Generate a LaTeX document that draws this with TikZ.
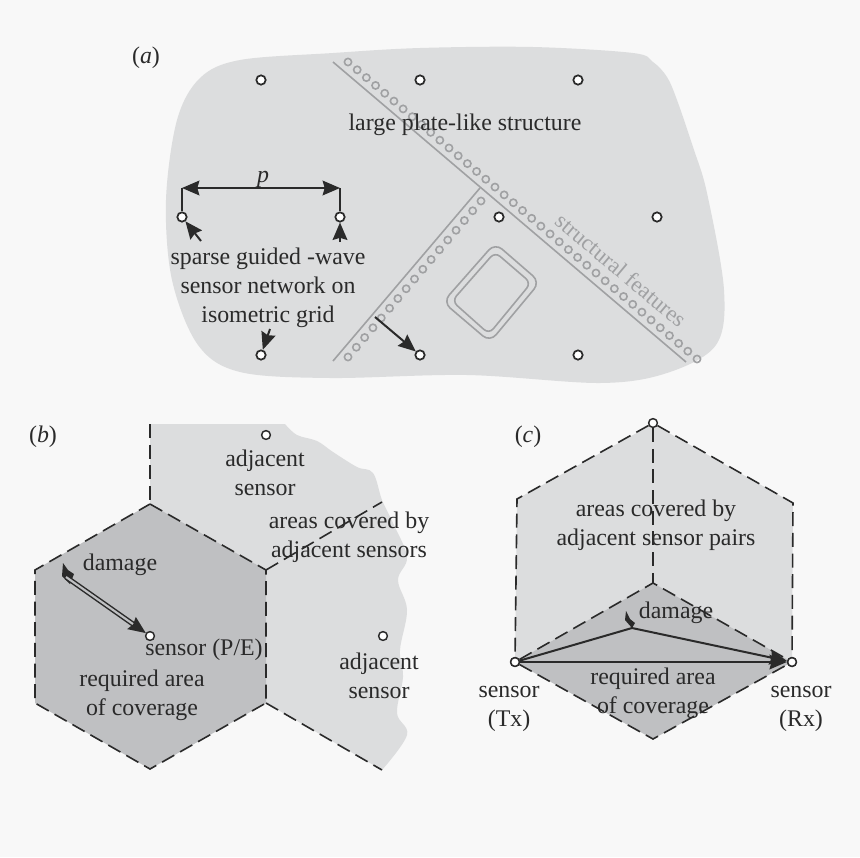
\documentclass[tikz,border=0pt]{standalone}
\usepackage{fontspec}
\setmainfont{Liberation Serif}
\usetikzlibrary{arrows.meta,calc}
\definecolor{bgc}{HTML}{F8F8F8}
\definecolor{plate}{HTML}{DCDDDE}
\definecolor{deep}{HTML}{BFC0C2}
\definecolor{ink}{HTML}{2A2A2A}
\definecolor{feat}{HTML}{A0A1A3}
\tikzset{
 sensor/.style={circle,draw=ink,fill=white,line width=1.3pt,minimum size=7pt,inner sep=0pt},
 smallsensor/.style={sensor,minimum size=6.6pt,line width=1.1pt},
 fdot/.style={circle,draw=feat,line width=1.2pt,minimum size=5.4pt,inner sep=0pt},
 fline/.style={draw=feat,line width=1.2pt},
 lab/.style={text=ink,align=center,inner sep=0pt,yshift=-2.25pt,font=\fontsize{17.9}{21.75}\selectfont},
 dashline/.style={draw=ink,line width=1.2pt,dash pattern=on 10.5pt off 5pt},
 arr/.style={draw=ink,line width=1.5pt,-{Stealth[length=13pt,width=11pt,inset=1.5pt]}},
 darr/.style={draw=ink,line width=1.5pt,{Stealth[length=13pt,width=11pt,inset=1.5pt]}-{Stealth[length=13pt,width=11pt,inset=1.5pt]}},
 tickline/.style={draw=ink,line width=1.5pt},
 crack/.style={fill=ink,draw=none},
}
\begin{document}
\begin{tikzpicture}[x=0.75pt,y=-0.75pt]
\useasboundingbox (0,0) rectangle (860,857);
\fill[bgc] (0,0) rectangle (860,857);
% plate (a)
\fill[plate] plot[smooth cycle,tension=.55] coordinates {
 (240,60)(200,78)(177,120)(166,200)(172,280)(198,345)(240,372)(330,378)(467,375)(600,383)(667,373)(716,345)(724,290)(707,193)(693,147)(677,100)(667,77)(653,62)(633,53)(533,47)(420,48)(333,53)};
% structural features
\coordinate (la1) at (333,62); \coordinate (la2) at (686,362);
\coordinate (lb1) at (480,188); \coordinate (lb2) at (333,361);
\draw[fline] (la1) -- (la2);
\draw[fline] (lb1) -- (lb2);
\foreach \i in {0,...,38}{
 \node[fdot] (fa\i) at ({348+\i*349/38},{62+\i*297/38}) {};}
\foreach \i in {0,...,16}{
 \node[fdot] (fb\i) at ({481-\i*133/16},{201+\i*156/16}) {};}
\draw[fline,rounded corners=7pt] (495,243)--(540,282)--(490,342)--(443,302)--cycle;
\draw[fline,rounded corners=5pt] (495,252)--(531,283)--(489,334)--(452,301)--cycle;
% sensors (a)
\node[sensor] (s1) at (261,80) {};
\node[sensor] (s2) at (420,80) {};
\node[sensor] (s3) at (578,80) {};
\node[sensor] (s4) at (182,217) {};
\node[sensor] (s5) at (340,217) {};
\node[sensor] (s6) at (499,217) {};
\node[sensor] (s7) at (657,217) {};
\node[sensor] (s8) at (261,355) {};
\node[sensor] (s9) at (420,355) {};
\node[sensor] (s10) at (578,355) {};
\coordinate (pl) at (182,188); \coordinate (pr) at (340,188);
\draw[tickline] (pl) -- (s4);
\draw[tickline] (pr) -- (s5);
\draw[darr] (pl) -- (pr);
\coordinate (a1) at (201,241); \coordinate (a2) at (340,242);
\coordinate (a3) at (270,329); \coordinate (a4) at (375,317);
\draw[arr] (a1) -- (s4);
\draw[arr] (a2) -- (s5);
\draw[arr] (a3) -- (s8);
\draw[arr] (a4) -- (s9);
\node[lab] (ta) at (146,55) {(\textit{a})};
\node[lab] (t1) at (465,122) {large plate-like structure};
\node[lab] (tp) at (263,176) {\textit{p}};
\node[lab] (t2) at (268,285) {sparse guided -wave\\sensor network on\\isometric grid};
\node[text=feat,inner sep=0pt,font=\fontsize{17}{20}\selectfont,rotate=-40] (t3) at (621,270) {structural features};
% (b)
\fill[plate] (150,424) -- plot[smooth,tension=.6] coordinates {
 (285,424)(297,435)(317,441)(333,452)(357,467)(373,473)(382,500)(393,523)(407,557)(398,580)(407,610)(400,650)(403,677)(397,713)(407,735)(382,770)}
 -- (266,703) -- (266,570) -- (150,504) -- cycle;
\coordinate (h1) at (150,504); \coordinate (h2) at (266,570); \coordinate (h3) at (266,703);
\coordinate (h4) at (150,769); \coordinate (h5) at (35,703); \coordinate (h6) at (35,570);
\fill[deep] (h1)--(h2)--(h3)--(h4)--(h5)--(h6)--cycle;
\coordinate (e1) at (150,424); \coordinate (e2) at (382,502); \coordinate (e3) at (382,770);
\draw[dashline] (h1)--(h2)--(h3)--(h4)--(h5)--(h6)--cycle;
\draw[dashline] (e1)--(h1);
\draw[dashline] (h2)--(e2);
\draw[dashline] (h3)--(e3);
\node[smallsensor] (b1) at (266,435) {};
\node[smallsensor] (b2) at (383,636) {};
\node[smallsensor] (b3) at (150,636) {};
\coordinate (dm) at (66,577);
\fill[crack] (63,563) -- (68,570) -- (74,574) -- (70,584) -- (62,576) -- cycle;
\draw[arr,double=deep,double distance=1.6pt,line width=1.1pt] (dm) -- (b3);
\node[lab] (tb) at (43,434) {(\textit{b})};
\node[lab] (t4) at (265,470) {adjacent\\sensor};
\node[lab] (t5) at (349,534) {areas covered by\\adjacent sensors};
\node[lab] (t6) at (120,562) {damage};
\node[lab] (t7) at (204,647) {sensor (P/E)};
\node[lab] (t8) at (142,692) {required area\\of coverage};
\node[lab] (t9) at (379,673) {adjacent\\sensor};
% (c)
\coordinate (c1) at (653,424); \coordinate (c2) at (793,503); \coordinate (c4) at (653,739);
\coordinate (c6) at (517,499); \coordinate (cm) at (653,583);
\fill[plate] (c1)--(c2)--(792,662)--(653,583)--(515,662)--(c6)--cycle;
\fill[deep] (cm)--(792,662)--(c4)--(515,662)--cycle;
\node[smallsensor] (tx) at (515,662) {};
\node[smallsensor] (rx) at (792,662) {};
\node[smallsensor] (top) at (653,423) {};
\draw[dashline] (top)--(c2)--(rx);
\draw[dashline] (top)--(c6)--(tx);
\draw[dashline] (top)--(cm);
\draw[dashline] (tx)--(cm)--(rx);
\draw[dashline] (tx)--(c4)--(rx);
\coordinate (cd) at (632,628);
\fill[crack] (626,611) -- (630,619) -- (635,623) -- (632,628) -- (625,620) -- cycle;
\draw[arr] (tx) -- (rx);
\draw[tickline] (tx) -- (cd);
\draw[arr] (cd) -- (rx);
\node[smallsensor] at (tx) {};
\node[smallsensor] at (rx) {};
\node[lab] (tc) at (528,434) {(\textit{c})};
\node[lab] (t10) at (656,522) {areas covered by\\adjacent sensor pairs};
\node[lab] (t11) at (676,610) {damage};
\node[lab] (t12) at (653,690) {required area\\of coverage};
\node[lab] (t13) at (509,706) {sensor\\(Tx)};
\node[lab] (t14) at (801,706) {sensor\\(Rx)};
\end{tikzpicture}
\end{document}
